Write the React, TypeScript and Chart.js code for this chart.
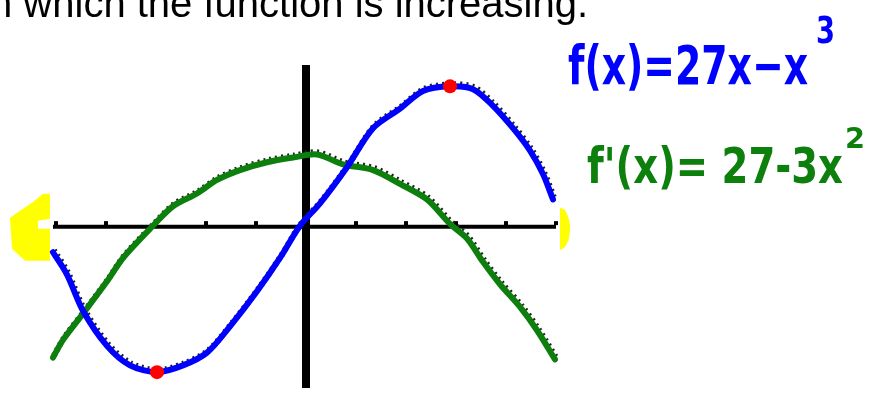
import { useEffect, useRef } from "react";
import { Chart, registerables } from "chart.js";

Chart.register(...registerables);

const W = 871;
const H = 396;

// f(x) = 27x - x^3, sampled along the drawn curve
const fX = [-5.06, -4.78, -4.46, -3.98, -3.52, -2.98, -2.46, -1.98, -1.52, -0.98, -0.52, -0.12, 0.28, 0.82, 1.34, 1.88, 2.34, 2.88, 3.34, 3.74, 4.14, 4.48, 4.74, 4.94];
const fY = [-9.8, -18.4, -32.3, -45.8, -53.3, -55.9, -53.3, -48.4, -38.3, -24.8, -12.0, 0.4, 9.0, 22.9, 37.9, 45.4, 52.2, 54.0, 52.9, 46.5, 37.9, 29.3, 20.3, 10.5];

// f'(x) = 27 - 3x^2, sampled along the drawn curve
const gX = [-5.06, -4.86, -4.46, -3.98, -3.66, -3.06, -2.66, -2.18, -1.78, -1.32, -0.78, -0.26, 0.22, 0.74, 1.34, 1.88, 2.42, 2.88, 3.22, 3.54, 3.88, 4.28, 4.62, 4.98];
const gY = [-50.3, -43.5, -33.4, -21.0, -12.0, 0.4, 7.9, 12.8, 18.0, 21.8, 24.8, 26.6, 27.8, 24.0, 21.8, 16.5, 10.5, 1.1, -4.5, -13.5, -22.1, -30.8, -39.8, -51.0];

// local max / min of f, marked in red
const extremaX = [2.88, -2.98];
const extremaY = [54.0, -55.9];

// unit ticks along the x-axis
const tickValues = [-5, -4, -3, -2, -1, 1, 2, 3, 4, 5];

const X_MIN = -5.06;
const X_MAX = 5.0;
const Y_MIN = -62;
const Y_MAX = 62.2;

const BLUE = "#0000ff";
const GREEN = "#0c7f0c";
const YELLOW = "#ffff00";

const pts = (xs: number[], ys: number[]) => xs.map((x, i) => ({ x, y: ys[i] }));

// draws text inside a horizontal span by squeezing it to the given width
function fitText(ctx: CanvasRenderingContext2D, text: string, font: string, x: number, baseline: number, width: number, color: string) {
  ctx.save();
  ctx.font = font;
  ctx.fillStyle = color;
  ctx.textBaseline = "alphabetic";
  ctx.textAlign = "left";
  const natural = ctx.measureText(text).width;
  ctx.translate(x, baseline);
  ctx.scale(width / natural, 1);
  ctx.fillText(text, 0, 0);
  ctx.restore();
}

// the faint printed graph peeks out just above the traced curves
const offsetTrace = {
  id: "offsetTrace",
  beforeDatasetDraw(chart: any, args: any) {
    const ds = chart.data.datasets[args.index];
    if (ds.trace) {
      chart.ctx.save();
      chart.ctx.translate(1, -2);
    }
  },
  afterDatasetDraw(chart: any, args: any) {
    const ds = chart.data.datasets[args.index];
    if (ds.trace) chart.ctx.restore();
  },
};

const decorations = {
  id: "decorations",
  beforeDatasetsDraw(chart: any) {
    const { ctx, scales } = chart;
    const left = scales.x.getPixelForValue(X_MIN);
    const right = scales.x.getPixelForValue(X_MAX);
    const axisY = scales.y.getPixelForValue(0);
    ctx.save();
    ctx.fillStyle = YELLOW;
    // left arrowhead on the x-axis
    const head = [
      [-10, -33], [-3, -33], [-3, -8], [-15, -6], [-15, 2], [-3, 2], [-3, 34],
      [-28, 34], [-41, 22], [-43, -9], [-33, -16], [-21, -24],
    ];
    ctx.beginPath();
    head.forEach(([dx, dy], i) => {
      if (i === 0) ctx.moveTo(left + dx, axisY + dy);
      else ctx.lineTo(left + dx, axisY + dy);
    });
    ctx.closePath();
    ctx.fill();
    // right arrow stub
    ctx.beginPath();
    ctx.ellipse(right + 4, axisY + 2, 10, 21, 0, -Math.PI / 2, Math.PI / 2);
    ctx.closePath();
    ctx.fill();
    ctx.restore();
  },
  afterDraw(chart: any) {
    const { ctx } = chart;
    ctx.save();
    ctx.font = '40px "Liberation Sans", Arial, sans-serif';
    ctx.fillStyle = "#000";
    ctx.textBaseline = "alphabetic";
    ctx.fillText("n which the function is increasing.", -10, 17);
    ctx.restore();

    const hand = '"DejaVu Sans", "Noto Sans", sans-serif';
    fitText(ctx, "f(x)=27x\u2212x", `bold 54px ${hand}`, 568, 84, 240, BLUE);
    fitText(ctx, "3", `bold 38px ${hand}`, 816, 43, 19, BLUE);
    fitText(ctx, "f'(x)= 27-3x", `bold 50px ${hand}`, 587, 183, 256, GREEN);
    fitText(ctx, "2", `bold 28px ${hand}`, 845, 148, 20, GREEN);
  },
};

export default function App() {
  const ref = useRef<HTMLCanvasElement>(null);

  useEffect(() => {
    if (!ref.current) return;
    const chart = new Chart(ref.current, {
      type: "scatter",
      data: {
        datasets: [
          {
            data: [{ x: X_MIN, y: 0 }, { x: X_MAX, y: 0 }],
            showLine: true,
            borderColor: "#000",
            borderWidth: 4,
            pointRadius: 0,
            order: 10,
          },
          {
            data: [{ x: 0, y: Y_MIN }, { x: 0, y: Y_MAX }],
            showLine: true,
            borderColor: "#000",
            borderWidth: 8,
            pointRadius: 0,
            order: 10,
          },
          {
            data: tickValues.map((x) => ({ x, y: 1.4 })),
            showLine: false,
            pointStyle: "line",
            rotation: 90,
            pointRadius: 2,
            borderColor: "#000",
            borderWidth: 4,
            order: 9,
          },
          {
            data: pts(fX, fY),
            trace: true,
            showLine: true,
            borderColor: "#222",
            borderWidth: 6,
            borderDash: [2, 4],
            tension: 0.3,
            pointRadius: 0,
            order: 8,
          },
          {
            data: pts(gX, gY),
            trace: true,
            showLine: true,
            borderColor: "#222",
            borderWidth: 6,
            borderDash: [2, 4],
            tension: 0.3,
            pointRadius: 0,
            order: 8,
          },
          {
            data: pts(gX, gY),
            showLine: true,
            borderColor: GREEN,
            borderWidth: 6,
            borderCapStyle: "round",
            borderJoinStyle: "round",
            tension: 0.3,
            pointRadius: 0,
            order: 5,
          },
          {
            data: pts(fX, fY),
            showLine: true,
            borderColor: BLUE,
            borderWidth: 6,
            borderCapStyle: "round",
            borderJoinStyle: "round",
            tension: 0.3,
            pointRadius: 0,
            order: 4,
          },
          {
            data: pts(extremaX, extremaY),
            showLine: false,
            pointRadius: 7,
            backgroundColor: "#ff0000",
            borderWidth: 0,
            order: 1,
          },
        ],
      } as any,
      options: {
        responsive: false,
        animation: false,
        devicePixelRatio: 1,
        events: [],
        clip: false,
        layout: { padding: { left: 53, right: W - 556, top: 65, bottom: 0 } },
        plugins: { legend: { display: false }, tooltip: { enabled: false }, title: { display: false } },
        scales: {
          x: { type: "linear", min: X_MIN, max: X_MAX, display: false },
          y: { type: "linear", min: Y_MIN, max: Y_MAX, display: false },
        },
      } as any,
      plugins: [offsetTrace, decorations],
    });
    return () => chart.destroy();
  }, []);

  return (
    <div style={{ position: "absolute", left: 0, top: 0, width: W, height: H, background: "#fff", overflow: "hidden" }}>
      <canvas ref={ref} width={W} height={H} style={{ display: "block" }} />
    </div>
  );
}
